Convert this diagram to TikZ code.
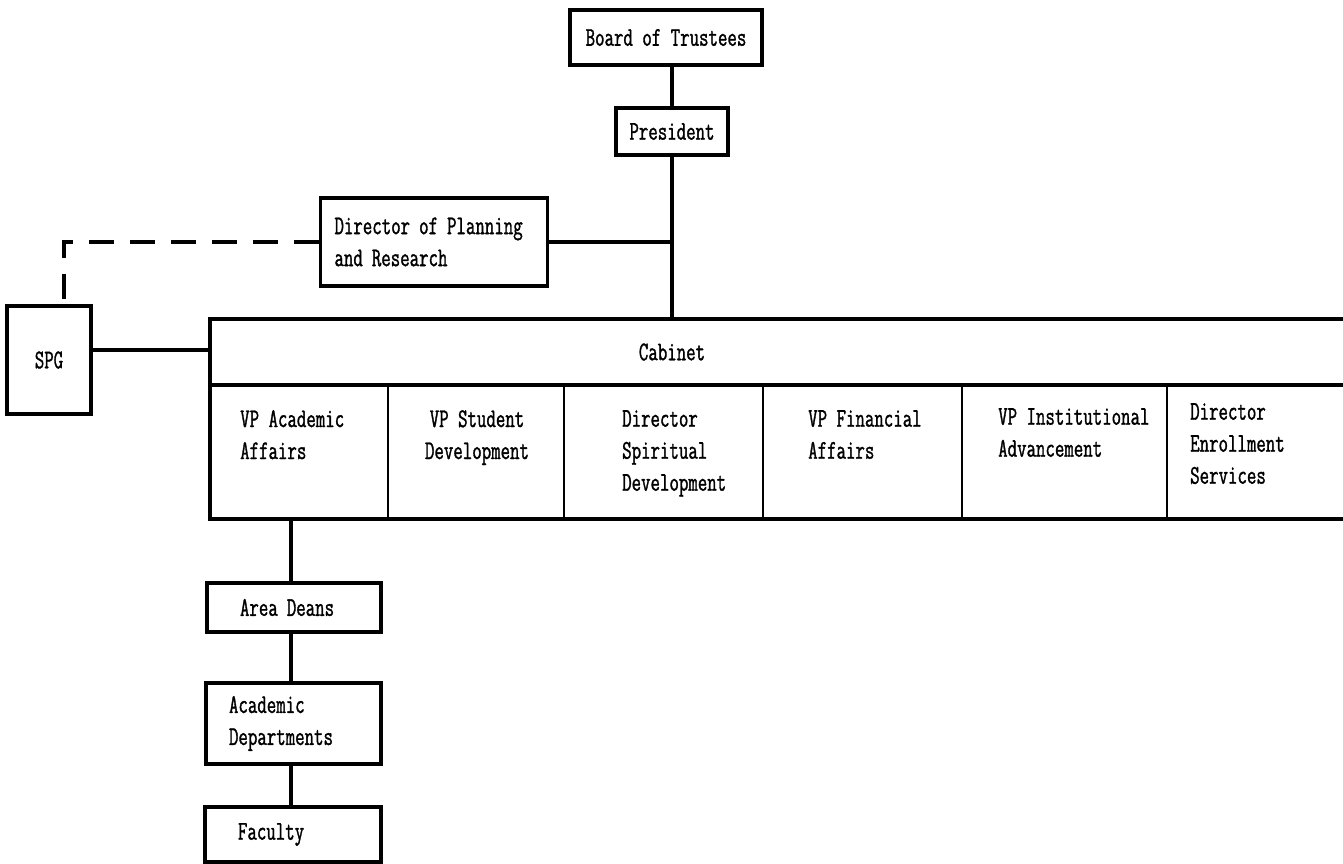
\documentclass[tikz,border=0pt]{standalone}
\usepackage{fontspec}
\setmainfont[FakeStretch=0.68,FakeBold=1.2]{Latin Modern Mono}
\begin{document}
\begin{tikzpicture}[x=1pt,y=-1pt,
  every node/.style={font=\fontsize{27}{32}\selectfont},
  box/.style={draw, line width=3.2pt, inner sep=0pt},
  lbox/.style={box, align=left},
  conn/.style={line width=3.4pt},
  dconn/.style={line width=3.4pt, dash pattern=on 25pt off 16pt},
  col/.style={inner sep=0pt, align=left, anchor=north west},
  frame/.style={line width=3.4pt},
  divider/.style={line width=2.6pt}]
\useasboundingbox (0,0) rectangle (1343,863);
% boxes
\node[box, minimum width=192pt, minimum height=55pt] (bot) at (666,37.5) {Board of Trustees};
\node[box, minimum width=112pt, minimum height=47pt] (pres) at (672,131.5) {President};
\node[lbox, inner xsep=14pt, text width=199pt, minimum height=88pt] (dop) at (434,242) {Director of Planning\\and Research};
\node[box, minimum width=84pt, minimum height=108pt] (spg) at (49,360) {SPG};
\node[lbox, inner xsep=33pt, text width=108pt, minimum height=49pt] (ad) at (294,607.5) {Area Deans};
\node[lbox, inner xsep=23pt, text width=129pt, minimum height=81pt] (acd) at (293.5,723.5) {Academic\\Departments};
\node[lbox, inner xsep=33pt, text width=110pt, minimum height=55pt] (fac) at (293,834.5) {Faculty};
% cabinet frame
\coordinate (cabtop) at (672,319);
\coordinate (cableft) at (210,350);
\coordinate (cabbot) at (291,519);
\draw[frame] (1360,319) -- (210,319) -- (210,519) -- (1360,519);
\draw[frame] (210,385) -- (1360,385);
\foreach \x in {388,564,763,962,1167} \draw[divider] (\x,385) -- (\x,519);
\node (cab) at (672,352) {Cabinet};
\node[col] (vpa) at (240,410) {VP Academic\\Affairs};
\node[col, align=center, anchor=north] (vps) at (477,410) {VP Student\\Development};
\node[col] (dsd) at (622,410) {Director\\Spiritual\\Development};
\node[col] (vpf) at (808,410) {VP Financial\\Affairs};
\node[col] (vpi) at (998,408) {VP Institutional\\Advancement};
\node[col] (des) at (1190,403) {Director\\Enrollment\\Services};
% connectors
\draw[conn] (pres.north |- bot.south) -- (pres.north);
\draw[conn] (pres.south) -- (pres.south |- cabtop);
\draw[conn] (dop.east) -- (dop.east -| pres.south);
\draw[dconn] (dop.west) -- ([xshift=15pt]spg.north |- dop.west) -- ([xshift=15pt]spg.north);
\draw[conn] (spg.east |- cableft) -- (cableft);
\draw[conn] (cabbot) -- (cabbot |- ad.north);
\draw[conn] (ad.south -| cabbot) -- (acd.north -| cabbot);
\draw[conn] (acd.south -| cabbot) -- (fac.north -| cabbot);
\end{tikzpicture}
\end{document}
